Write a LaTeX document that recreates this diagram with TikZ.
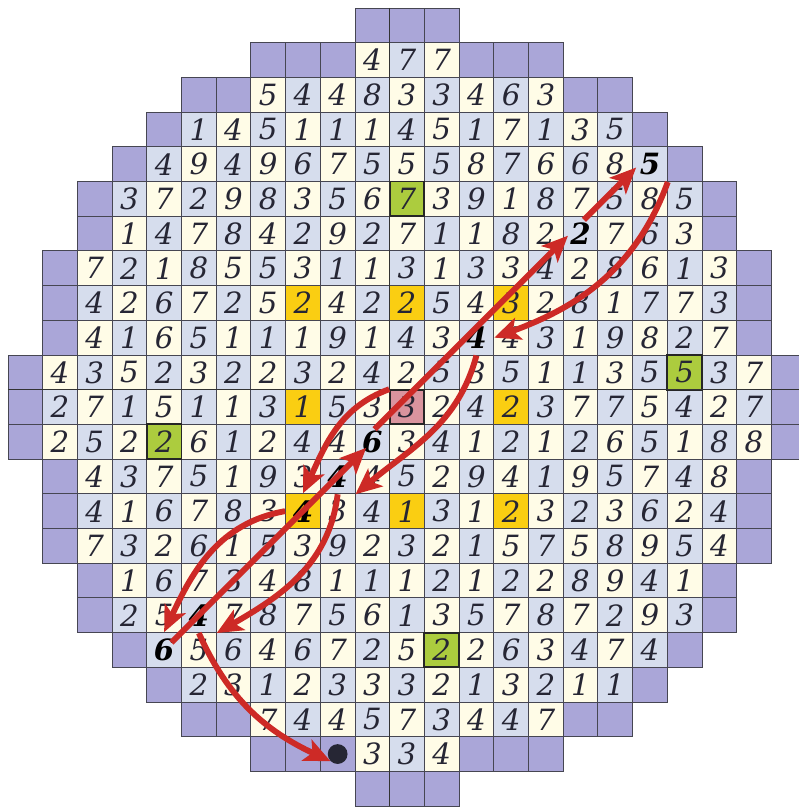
\documentclass[tikz,border=0pt]{standalone}
\usepackage{fontspec}
\setmainfont{DejaVu Serif}
\usepackage{tikz}
\usetikzlibrary{arrows.meta}

\definecolor{tone0}{RGB}{214,221,237}
\definecolor{tone1}{RGB}{255,252,231}
\definecolor{rim}{RGB}{170,166,216}
\definecolor{gold}{RGB}{250,206,18}
\definecolor{lime}{RGB}{172,204,62}
\definecolor{rose}{RGB}{218,148,158}
\definecolor{ink}{RGB}{38,38,52}
\definecolor{gridline}{RGB}{70,70,82}
\definecolor{pathred}{RGB}{205,42,38}

\tikzstyle{rimcell} = [draw=gridline, line width=0.8pt, fill=rim]
\tikzstyle{cell} = [rectangle, draw=gridline, line width=0.8pt, minimum size=1cm, inner sep=0pt, text=ink, font=\fontsize{24}{24}\selectfont\itshape]
\tikzstyle{goldcell} = [cell, fill=gold]
\tikzstyle{limecell} = [cell, fill=lime, draw=black!85, line width=1.6pt]
\tikzstyle{startcell} = [cell, fill=rose, draw=black!85, line width=1.6pt]
\tikzstyle{hopnum} = [inner sep=0pt, text=black, font=\fontsize{24}{24}\selectfont\bfseries\itshape]
\tikzstyle{axisline} = [draw=black!80, line width=1.3pt]
\tikzstyle{goaldot} = [circle, fill=ink, minimum size=0.57cm, inner sep=0pt]
\tikzstyle{hop} = [draw=pathred, line width=4.8pt, -{Stealth[length=0.75cm, width=0.66cm, inset=0.18cm]}]

\begin{document}
\begin{tikzpicture}
  \useasboundingbox[fill=white] (-0.2305,0.2305) rectangle (22.767,-23.055);

  % purple rim of the board
  \foreach \r/\a/\b in {0/10/12, 1/7/15, 2/5/17, 3/4/18, 4/3/19, 5/2/20, 6/2/20,
      7/1/21, 8/1/21, 9/1/21, 10/0/22, 11/0/22, 12/0/22, 13/1/21, 14/1/21, 15/1/21,
      16/2/20, 17/2/20, 18/3/19, 19/4/18, 20/5/17, 21/7/15, 22/10/12}
    \foreach \c in {\a,...,\b}
      \draw[rimcell] (\c,-\r) rectangle ++(1,-1);

  % numbered cells, row / first column / values
  \foreach \r/\s/\vals in {
      1/10/{4,7,7},
      2/7/{5,4,4,8,3,3,4,6,3},
      3/5/{1,4,5,1,1,1,4,5,1,7,1,3,5},
      4/4/{4,9,4,9,6,7,5,5,5,8,7,6,6,8,{}},
      5/3/{3,7,2,9,8,3,5,6,{},3,9,1,8,7,5,8,5},
      6/3/{1,4,7,8,4,2,9,2,7,1,1,8,2,{},7,6,3},
      7/2/{7,2,1,8,5,5,3,1,1,3,1,3,3,4,2,8,6,1,3},
      8/2/{4,2,6,7,2,5,{},4,2,{},5,4,{},2,8,1,7,7,3},
      9/2/{4,1,6,5,1,1,1,9,1,4,3,{},4,3,1,9,8,2,7},
      10/1/{4,3,5,2,3,2,2,3,2,4,2,5,3,5,1,1,3,5,{},3,7},
      11/1/{2,7,1,5,1,1,3,{},5,3,{},2,4,{},3,7,7,5,4,2,7},
      12/1/{2,5,2,{},6,1,2,4,4,{},3,4,1,2,1,2,6,5,1,8,8},
      13/2/{4,3,7,5,1,9,3,{},4,5,2,9,4,1,9,5,7,4,8},
      14/2/{4,1,6,7,8,3,{},3,4,{},3,1,{},3,2,3,6,2,4},
      15/2/{7,3,2,6,1,5,3,9,2,3,2,1,5,7,5,8,9,5,4},
      16/3/{1,6,7,3,4,8,1,1,1,2,1,2,2,8,9,4,1},
      17/3/{2,5,{},7,8,7,5,6,1,3,5,7,8,7,2,9,3},
      18/4/{{},5,6,4,6,7,2,5,{},2,6,3,4,7,4},
      19/5/{2,3,1,2,3,3,3,2,1,3,2,1,1},
      20/7/{7,4,4,5,7,3,4,4,7},
      21/10/{3,3,4}}{
    \foreach \v [count=\k from \s] in \vals {
      \pgfmathtruncatemacro\pty{mod(\r+\k,2)}
      \node[cell, fill=tone\pty] (c\r-\k) at (\k+0.5,-\r-0.5) {\v};
    }
  }

  % marked cells
  \foreach \r/\c/\v in {8/8/2, 8/11/2, 8/14/3, 11/8/1, 11/14/2, 14/8/{}, 14/11/1, 14/14/2}
    \node[goldcell] (g\r-\c) at (c\r-\c) {\v};
  \foreach \r/\c/\v in {5/11/7, 10/19/5, 12/4/2, 18/12/2}
    \node[limecell] (l\r-\c) at (c\r-\c) {\v};

  \draw[axisline] (11,0) -- (11,-23);
  \draw[axisline] (0,-11) -- (23,-11);
  \node[startcell] (start) at (c11-11) {3};

  % cells on the route
  \foreach \r/\c/\v in {4/18/5, 6/16/2, 9/13/4, 12/10/6, 13/9/4, 14/8/4, 17/5/4, 18/4/6}
    \node[hopnum] (h\r-\c) at (c\r-\c) {\v};
  \node[goaldot] (goal) at (9.5,-21.5) {};

  % the route
  \draw[hop] (c11-11.north west) to[out=200,in=65] (c14-8.north);
  \draw[hop] (c14-8.west) to[out=190,in=65] (c18-4.north);
  \draw[hop, shorten <=0.3cm, shorten >=0.25cm] (c18-4.center) -- (c12-10.center);
  \draw[hop, shorten <=0.3cm, shorten >=0.3cm] ([shift={(-0.15,0.15)}]c12-10.center) -- ([shift={(-0.15,0.15)}]c6-16.center);
  \draw[hop, shorten <=0.35cm, shorten >=0.35cm] ([shift={(-0.15,0.15)}]c6-16.center) -- ([shift={(-0.15,0.15)}]c4-18.center);
  \draw[hop] (c4-18.south east) to[out=-110,in=20] (c9-13.east);
  \draw[hop] (c9-13.south) to[out=-105,in=40] (c13-9.south east);
  \draw[hop] (c13-9.south) to[out=-97,in=30] (c17-5.south east);
  \draw[hop] (c17-5.south) to[out=-66,in=155] (goal.south west);
\end{tikzpicture}
\end{document}
